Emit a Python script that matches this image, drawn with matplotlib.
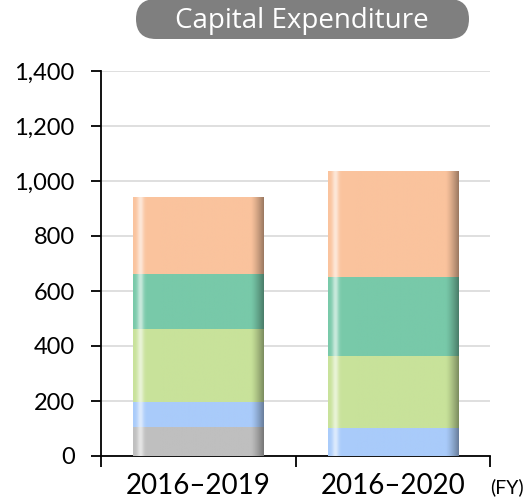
import numpy as np
import matplotlib
matplotlib.use('Agg')
import matplotlib.pyplot as plt
from matplotlib.patches import FancyBboxPatch
from matplotlib.colors import to_rgb

# data
periods = ['2016–2019', '2016–2020']
grey_vals = [105, 0]
blue_vals = [92, 103]
green_vals = [264, 262]
teal_vals = [200, 285]
orange_vals = [280, 382]
series = [grey_vals, blue_vals, green_vals, teal_vals, orange_vals]
colors = ['#BFBFBF', '#A9CBFA', '#C8E29A', '#78C9A9', '#FAC39D']

plt.rcParams['font.family'] = ['Lato', 'DejaVu Sans']

fig = plt.figure(figsize=(5.29, 5.01), dpi=100)
ax = fig.add_axes([101/529, 1-456/501, 389/529, 385/501])

x = np.arange(len(periods))
width = 0.67


def shade(base, n=200):
    # cylinder-like shading: small highlight on the left, darker right edge
    t = np.linspace(0, 1, n)
    rgb = np.array(to_rgb(base))
    hi = 0.6 * np.exp(-((t - 0.055) / 0.025) ** 2)
    dk = np.clip((t - 0.9) / 0.1, 0, 1) ** 1.3 * 0.38
    col = rgb[None, :] * (1 - dk[:, None])
    col = col + (1 - col) * hi[:, None]
    return col[None, :, :]


bottom = np.zeros(len(periods))
for vals, c in zip(series, colors):
    bars = ax.bar(x, vals, width, bottom=bottom, color=c, zorder=2)
    for b in bars:
        if b.get_height() <= 0:
            continue
        x0, y0 = b.get_x(), b.get_y()
        ax.imshow(shade(c), extent=(x0, x0 + b.get_width(), y0, y0 + b.get_height()),
                  aspect='auto', zorder=3, interpolation='bilinear')
    bottom += np.array(vals)

ax.set_xlim(-0.5, 1.5)
ax.set_ylim(0, 1400)
ax.set_yticks(range(0, 1401, 200))
ax.set_yticklabels([f'{v:,}' for v in range(0, 1401, 200)], fontsize=17)
ax.yaxis.grid(True, color='#D9D9D9', lw=1.2, zorder=0)
ax.set_axisbelow(True)

ax.set_xticks(x)
ax.set_xticklabels(periods, fontsize=20)
ax.tick_params(axis='x', length=0, pad=12)
ax.set_xticks([-0.5, 0.5, 1.5], minor=True)
ax.tick_params(axis='x', which='minor', length=8, width=1.3, direction='out')
ax.tick_params(axis='y', length=7, width=1.3, direction='out', pad=12)

for s in ['top', 'right']:
    ax.spines[s].set_visible(False)
for s in ['left', 'bottom']:
    ax.spines[s].set_linewidth(1.3)

fig.text(490/529, 1-487/501, '(FY)', fontsize=14, ha='left', va='center')

# title pill
box = FancyBboxPatch((136/529, 1-39/501), 333/529, 40/501,
                     boxstyle='round,pad=0,rounding_size=0.0378',
                     mutation_aspect=529/501, transform=fig.transFigure,
                     facecolor='#7F7F7F', edgecolor='none')
fig.patches.append(box)
fig.text(302/529, 1-28/501, 'Capital Expenditure', color='white',
         fontsize=20, ha='center', va='baseline', family=['Open Sans', 'DejaVu Sans'])

fig.savefig('out.png', dpi=100)
